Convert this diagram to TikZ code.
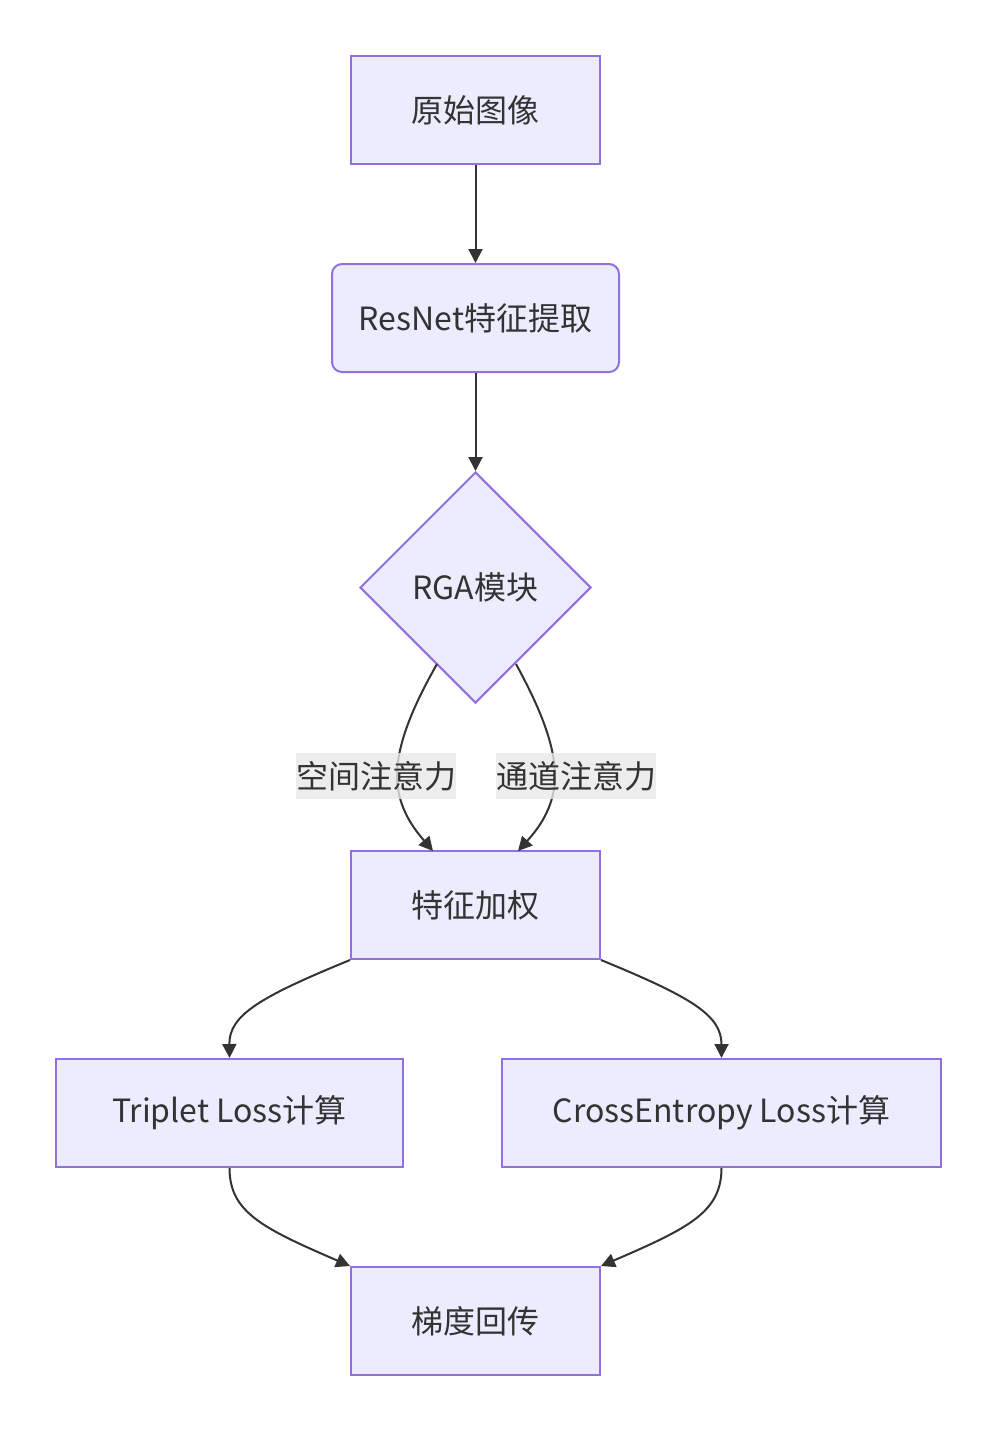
\documentclass[tikz,border=0pt]{standalone}
\usepackage{fontspec}
\setmainfont{Noto Sans CJK SC}
\usetikzlibrary{arrows.meta,shapes.geometric}
\definecolor{nodefill}{HTML}{ECECFF}
\definecolor{nodeline}{HTML}{9370DB}
\definecolor{txt}{HTML}{333333}
\definecolor{lblbg}{HTML}{E8E8E8}
\tikzset{
  box/.style={draw=nodeline, fill=nodefill, line width=1.5pt, text=txt, font=\fontsize{24pt}{28pt}\selectfont, inner sep=0pt, anchor=center},
  rbox/.style={box, rounded corners=7.5pt},
  dia/.style={box, diamond, minimum width=173.25pt, minimum height=173.25pt},
  edge/.style={draw=txt, line width=1.5pt, -{Triangle[length=10.5pt,width=10.5pt]}},
  lbl/.style={fill=lblbg, fill opacity=0.8, text opacity=1, text=txt, font=\fontsize{24pt}{28pt}\selectfont, inner sep=0pt, minimum width=120pt, minimum height=35pt}
}
\begin{document}
\begin{tikzpicture}[x=0.75pt,y=-0.75pt]
\useasboundingbox (0,0) rectangle (997,1431);
\node[box, minimum width=186.75pt, minimum height=81pt] (a) at (475.5,110) {原始图像};
\node[rbox, minimum width=215.25pt, minimum height=81pt] (b) at (475.5,318) {ResNet特征提取};
\node[dia] (c) at (475.5,587.5) {RGA模块};
\node[box, minimum width=186.75pt, minimum height=81pt] (d) at (475.5,905) {特征加权};
\node[box, minimum width=260.25pt, minimum height=81pt] (e) at (229.5,1113) {Triplet Loss计算};
\node[box, minimum width=329.25pt, minimum height=81pt] (f) at (721.5,1113) {CrossEntropy Loss计算};
\node[box, minimum width=186.75pt, minimum height=81pt] (g) at (475.5,1321) {梯度回传};
\coordinate (c1) at (437,664);
\coordinate (c2) at (516,664);
\coordinate (d1) at (433,851);
\coordinate (d2) at (518,851);
\draw[edge] (a.south) -- (b.north);
\draw[edge] (b.south) -- (c.north);
\draw[edge] (c1) .. controls (412,708) and (397,745) .. (397,776) .. controls (397,808) and (415,830) .. (d1);
\draw[edge] (c2) .. controls (540,708) and (555,745) .. (555,776) .. controls (555,808) and (537,830) .. (d2);
\node[lbl] (l1) at (376,776) {空间注意力};
\node[lbl] (l2) at (576,776) {通道注意力};
\draw[edge] (d.south west) .. controls (260,997) and (229,1015) .. (e.north);
\draw[edge] (d.south east) .. controls (691,997) and (721.5,1015) .. (f.north);
\draw[edge] (e.south) .. controls (229.5,1212) and (262,1228) .. (g.north west);
\draw[edge] (f.south) .. controls (721.5,1212) and (689,1228) .. (g.north east);
\end{tikzpicture}
\end{document}
